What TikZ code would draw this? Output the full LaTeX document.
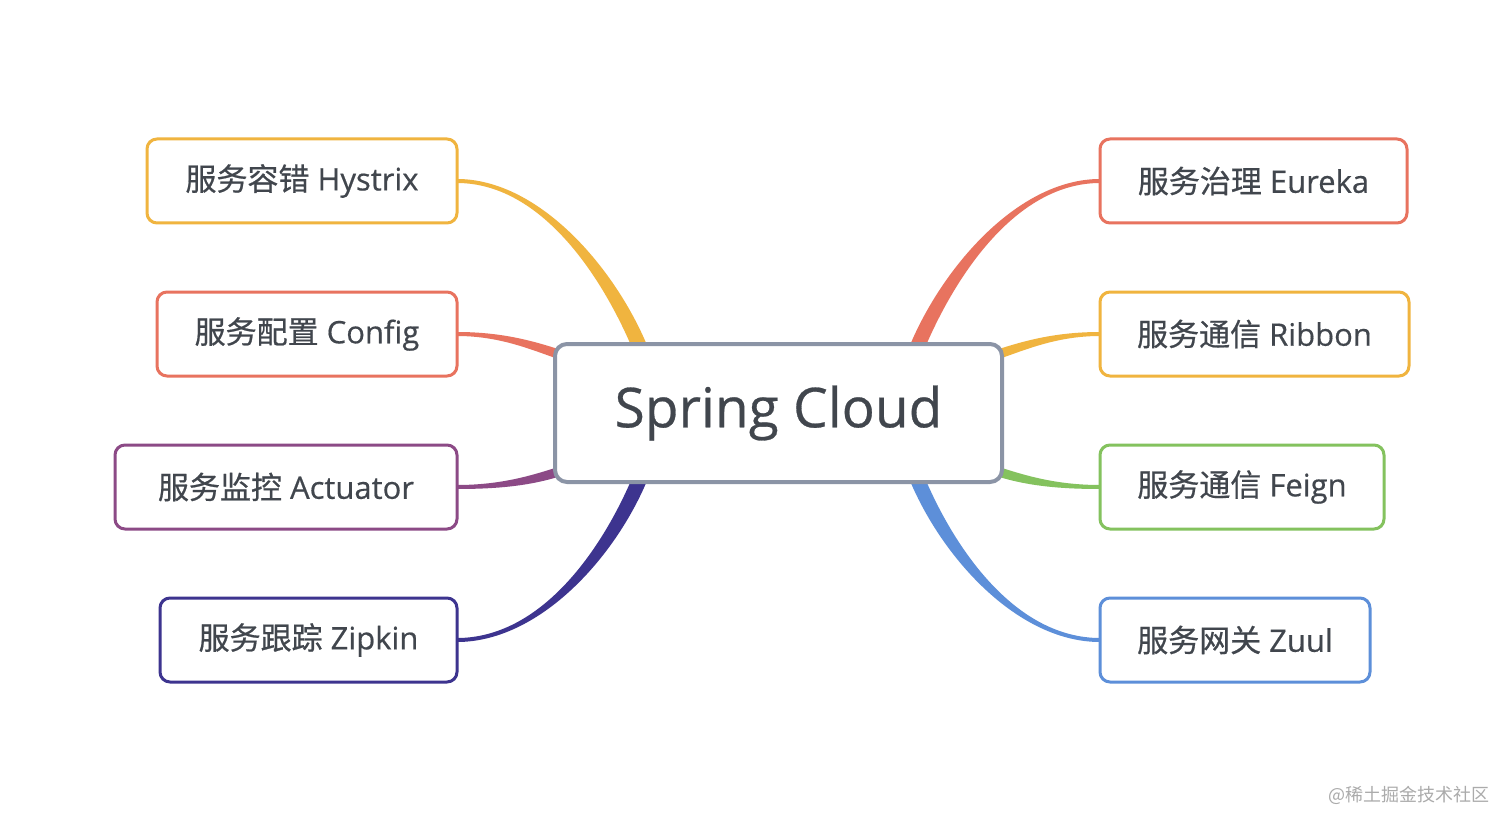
\documentclass[tikz,border=0pt]{standalone}
\usepackage{fontspec}
\setmainfont{Open Sans}[FakeBold=0.5]
\newfontfamily\cjk{Noto Sans CJK SC}[FakeBold=0.6]
\newfontfamily\cjkwm{Noto Sans CJK SC}
\usetikzlibrary{calc}
\pgfdeclarelayer{background}
\pgfsetlayers{background,main}
\definecolor{cyel}{HTML}{F0B43F}
\definecolor{ccor}{HTML}{E8735F}
\definecolor{cpur}{HTML}{8C4A86}
\definecolor{cind}{HTML}{3D348F}
\definecolor{cgrn}{HTML}{84C25E}
\definecolor{cblu}{HTML}{5D8FD9}
\definecolor{cgry}{HTML}{8B94A6}
\definecolor{ctxt}{HTML}{41464D}
\definecolor{cwm}{HTML}{ABABAB}
\tikzset{
  leaf/.style={draw=#1, line width=1.5pt, rounded corners=5pt, fill=white,
    minimum height=42pt, inner sep=0pt, outer sep=0pt, text=ctxt,
    font=\fontsize{15.5}{18}\selectfont},
  hub/.style={draw=cgry, line width=2pt, rounded corners=6pt, fill=white,
    minimum width=223.5pt, minimum height=69pt, inner sep=0pt, outer sep=0pt, text=ctxt,
    font=\fontsize{27.5}{32}\selectfont},
}
\begin{document}
\begin{tikzpicture}[x=0.5pt,y=-0.5pt]
\useasboundingbox (0,0) rectangle (1512,829);

\node[hub] (sc) at (778.5,413) {Spring Cloud};

\node[leaf=cyel, minimum width=155pt, anchor=east] (hys) at (457,181) {{\cjk 服务容错} Hystrix};
\node[leaf=ccor, minimum width=150pt, anchor=east] (cfg) at (457,334) {{\cjk 服务配置} Config};
\node[leaf=cpur, minimum width=171pt, anchor=east] (act) at (457,487) {{\cjk 服务监控} Actuator};
\node[leaf=cind, minimum width=148.5pt, anchor=east] (zip) at (457,640) {{\cjk 服务跟踪} Zipkin};

\node[leaf=ccor, minimum width=153.5pt, anchor=west] (eur) at (1100,181) {{\cjk 服务治理} Eureka};
\node[leaf=cyel, minimum width=154.5pt, anchor=west] (rib) at (1100,334) {{\cjk 服务通信} Ribbon};
\node[leaf=cgrn, minimum width=142pt, anchor=west] (fei) at (1100,487) {{\cjk 服务通信} Feign};
\node[leaf=cblu, minimum width=135pt, anchor=west] (zuu) at (1100,640) {{\cjk 服务网关} Zuul};

\coordinate (sHys) at ($(sc.north west)+(86,6)$);
\coordinate (sZip) at ($(sc.south west)+(86,-6)$);
\coordinate (sEur) at ($(sc.north east)+(-86,6)$);
\coordinate (sZuu) at ($(sc.south east)+(-86,-6)$);
\coordinate (sCfg) at ($(sc.north west)+(9,12)$);
\coordinate (sAct) at ($(sc.south west)+(9,-12)$);
\coordinate (sRib) at ($(sc.north east)+(-9,12)$);
\coordinate (sFei) at ($(sc.south east)+(-9,-12)$);

\begin{pgfonlayer}{background}
\fill[white] (0,0) rectangle (1512,829);
\fill[cyel] ($(hys.east)+(0,-2)$) .. controls +(83,0) and +(-32,-80) .. ($(sHys)+(8,0)$)
  -- ($(sHys)+(-8,0)$) .. controls +(-32,-76) and +(83,0) .. ($(hys.east)+(0,2)$) -- cycle;
\fill[cind] ($(zip.east)+(0,2)$) .. controls +(83,0) and +(-32,80) .. ($(sZip)+(8,0)$)
  -- ($(sZip)+(-8,0)$) .. controls +(-32,76) and +(83,0) .. ($(zip.east)+(0,-2)$) -- cycle;
\fill[ccor] ($(eur.west)+(0,-2)$) .. controls +(-83,0) and +(32,-80) .. ($(sEur)+(-8,0)$)
  -- ($(sEur)+(8,0)$) .. controls +(32,-76) and +(-83,0) .. ($(eur.west)+(0,2)$) -- cycle;
\fill[cblu] ($(zuu.west)+(0,2)$) .. controls +(-83,0) and +(32,80) .. ($(sZuu)+(-8,0)$)
  -- ($(sZuu)+(8,0)$) .. controls +(32,76) and +(-83,0) .. ($(zuu.west)+(0,-2)$) -- cycle;
\fill[ccor] ($(cfg.east)+(0,-2)$) .. controls +(45,0) and +(-30,-10) .. ($(sCfg)+(0,-5)$)
  -- ($(sCfg)+(0,5)$) .. controls +(-30,-10) and +(45,0) .. ($(cfg.east)+(0,2)$) -- cycle;
\fill[cpur] ($(act.east)+(0,2)$) .. controls +(45,0) and +(-30,10) .. ($(sAct)+(0,5)$)
  -- ($(sAct)+(0,-5)$) .. controls +(-30,10) and +(45,0) .. ($(act.east)+(0,-2)$) -- cycle;
\fill[cyel] ($(rib.west)+(0,-2)$) .. controls +(-45,0) and +(30,-10) .. ($(sRib)+(0,-5)$)
  -- ($(sRib)+(0,5)$) .. controls +(30,-10) and +(-45,0) .. ($(rib.west)+(0,2)$) -- cycle;
\fill[cgrn] ($(fei.west)+(0,2)$) .. controls +(-45,0) and +(30,10) .. ($(sFei)+(0,5)$)
  -- ($(sFei)+(0,-5)$) .. controls +(30,10) and +(-45,0) .. ($(fei.west)+(0,-2)$) -- cycle;
\end{pgfonlayer}

\node[anchor=east, text=cwm, inner sep=0pt, font=\cjkwm\fontsize{9}{11}\selectfont] (wm) at (1490,795) {@稀土掘金技术社区};
\end{tikzpicture}
\end{document}
